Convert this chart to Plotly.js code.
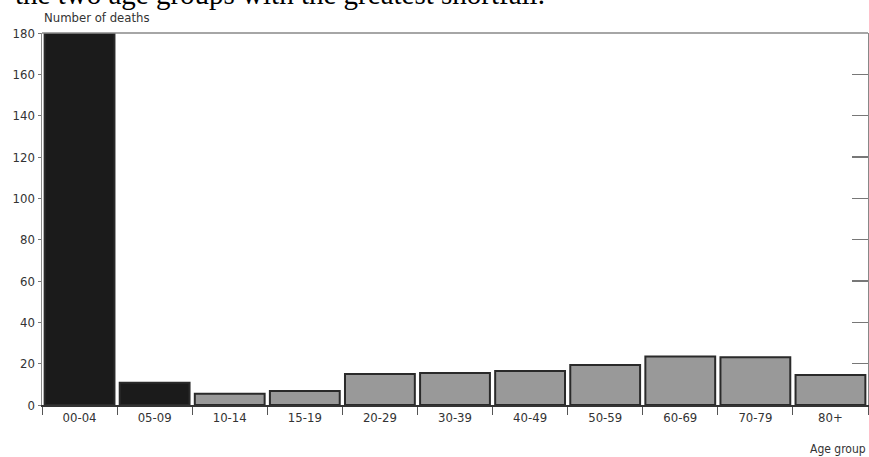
<!DOCTYPE html>
<html>
<head>
<meta charset="utf-8">
<script src="https://cdn.plot.ly/plotly-3.0.1.min.js"></script>
<style>
html,body{margin:0;padding:0;background:#fff;}
#chart{width:869px;height:457px;}
</style>
</head>
<body>
<div id="chart"></div>
<script>
const ageGroups = ["00-04","05-09","10-14","15-19","20-29","30-39","40-49","50-59","60-69","70-79","80+"];
const deaths = [180, 10.8, 5.5, 6.8, 15.0, 15.5, 16.4, 19.4, 23.5, 23.1, 14.5];
const highlighted = ["00-04","05-09"];
const yTicks = [0,20,40,60,80,100,120,140,160,180];

const narrow = "Liberation Sans Narrow, DejaVu Sans Condensed, Arial Narrow, sans-serif";
const fills = ageGroups.map(g => highlighted.includes(g) ? "#1b1b1b" : "#999999");

const data = [
  {
    type: "bar",
    x: ageGroups,
    y: deaths,
    marker: {color: fills, line: {color: "#2a2a2a", width: 2}},
    hoverinfo: "x+y"
  },
  {
    type: "scatter",
    mode: "none",
    x: ageGroups,
    y: deaths,
    yaxis: "y2",
    hoverinfo: "skip",
    showlegend: false
  }
];

const layout = {
  width: 869,
  height: 457,
  margin: {l: 42, r: 1, t: 33, b: 52},
  paper_bgcolor: "#ffffff",
  plot_bgcolor: "#ffffff",
  showlegend: false,
  bargap: 0.07,
  font: {family: narrow, size: 13, color: "#333"},
  xaxis: {
    type: "category",
    categoryarray: ageGroups,
    tickson: "boundaries",
    ticks: "outside",
    ticklen: 8,
    tickwidth: 1,
    tickcolor: "#555",
    showline: true,
    linecolor: "#333",
    linewidth: 1.5,
    showgrid: false,
    zeroline: false,
    tickfont: {family: narrow, size: 13, color: "#333"}
  },
  yaxis: {
    range: [0, 180],
    tickvals: yTicks,
    ticks: "outside",
    ticklen: 3,
    tickwidth: 1,
    tickcolor: "#777",
    showline: true,
    linecolor: "#888",
    linewidth: 1.5,
    showgrid: false,
    zeroline: false,
    ticklabelstandoff: 0,
    tickfont: {family: narrow, size: 13, color: "#333"}
  },
  yaxis2: {
    overlaying: "y",
    side: "right",
    range: [0, 180],
    tickvals: yTicks,
    ticks: "inside",
    ticklen: 16,
    tickwidth: 1.5,
    tickcolor: "#777",
    showticklabels: false,
    showline: true,
    linecolor: "#888",
    linewidth: 1.5,
    showgrid: false,
    zeroline: false
  },
  shapes: [
    {type: "line", xref: "paper", yref: "paper", x0: 0, x1: 1, y0: 1, y1: 1,
     line: {color: "#888", width: 1.5}}
  ],
  annotations: [
    {text: "the two age groups with the greatest shortfall.", xref: "paper", yref: "paper",
     x: -0.035, y: 1.057, xanchor: "left", yanchor: "bottom", showarrow: false,
     font: {family: "Liberation Serif, Times New Roman, serif", size: 29, color: "#000"}},
    {text: "Number of deaths", xref: "paper", yref: "paper",
     x: 0, y: 1.015, xanchor: "left", yanchor: "bottom", showarrow: false,
     font: {family: narrow, size: 13, color: "#333"}},
    {text: "Age group", xref: "paper", yref: "paper",
     x: 1, y: -0.095, xanchor: "right", yanchor: "top", showarrow: false,
     font: {family: narrow, size: 12, color: "#333"}}
  ]
};

Plotly.newPlot("chart", data, layout, {displayModeBar: false, staticPlot: true});
</script>
</body>
</html>
